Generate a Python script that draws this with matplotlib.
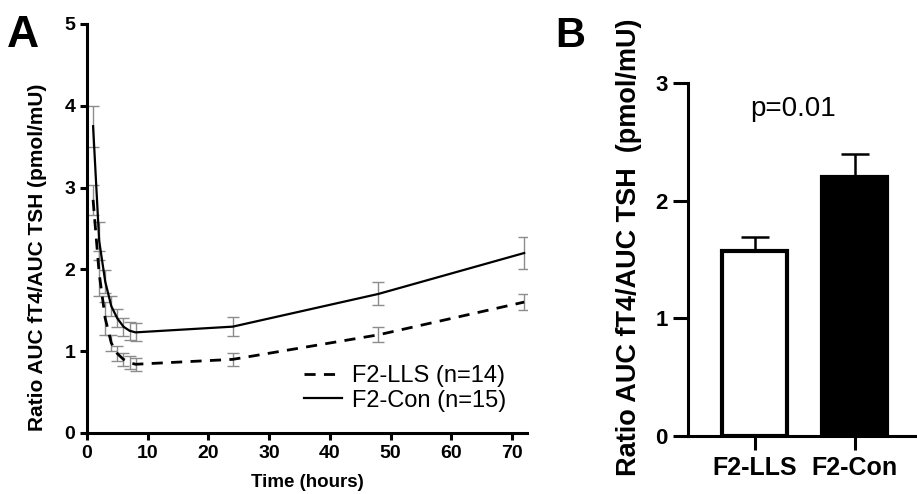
import numpy as np
import matplotlib
matplotlib.use("Agg")
import matplotlib.pyplot as plt

plt.rcParams['font.family'] = ['Liberation Sans', 'DejaVu Sans']

# Panel A data
time_h = [1, 2, 3, 4, 5, 6, 7, 8, 24, 48, 72]
con_mean = [3.75, 2.35, 1.85, 1.55, 1.40, 1.30, 1.25, 1.23, 1.30, 1.70, 2.20]
con_err = [0.25, 0.23, 0.14, 0.12, 0.11, 0.11, 0.11, 0.11, 0.12, 0.14, 0.20]
lls_mean = [2.85, 1.95, 1.40, 1.10, 0.97, 0.90, 0.86, 0.84, 0.90, 1.20, 1.60]
lls_err = [0.18, 0.28, 0.20, 0.10, 0.09, 0.08, 0.08, 0.08, 0.08, 0.09, 0.10]

# Panel B data
groups = ['F2-LLS', 'F2-Con']
bar_mean = [1.57, 2.20]
bar_err = [0.12, 0.20]

fig = plt.figure(figsize=(9.17, 4.94), dpi=100)

# ---- Panel A
ax1 = fig.add_axes([0.0949, 0.1235, 0.48, 0.828])
ax1.errorbar(time_h, con_mean, yerr=con_err, fmt='none', ecolor='#8c8c8c',
             elinewidth=1, capsize=4, capthick=1)
ax1.errorbar(time_h, lls_mean, yerr=lls_err, fmt='none', ecolor='#8c8c8c',
             elinewidth=1, capsize=4, capthick=1)
ax1.plot(time_h, lls_mean, color='k', lw=2, ls=(0, (4, 3)), label='F2-LLS (n=14)')
ax1.plot(time_h, con_mean, color='k', lw=1.6, label='F2-Con (n=15)')

ax1.set_xlim(0, 72.5)
ax1.set_ylim(0, 5)
ax1.set_xticks(np.arange(0, 80, 10))
ax1.set_yticks(np.arange(0, 6, 1))
for s in ['top', 'right']:
    ax1.spines[s].set_visible(False)
for s in ['left', 'bottom']:
    ax1.spines[s].set_linewidth(2.2)
ax1.tick_params(width=2.2, length=5, labelsize=14)
for lab in ax1.get_xticklabels() + ax1.get_yticklabels():
    lab.set_fontweight('bold')
ax1.set_xlabel('Time (hours)', fontsize=13.5, fontweight='bold', labelpad=9)
ax1.set_ylabel('Ratio AUC fT4/AUC TSH (pmol/mU)', fontsize=15, fontweight='bold')
ax1.yaxis.set_label_coords(-0.09, 0.43)
ax1.legend(loc='lower right', bbox_to_anchor=(1.0, 0.0), frameon=False,
           fontsize=17, handlelength=1.6, handletextpad=0.4, labelspacing=0.1)
fig.text(0.008, 0.905, 'A', fontsize=32, fontweight='bold')

# ---- Panel B
ax2 = fig.add_axes([0.750, 0.117, 0.25, 0.715])
xpos = np.arange(len(groups))
ax2.bar(xpos, bar_mean, width=0.65, color=['white', 'black'], edgecolor='black',
        linewidth=3, zorder=2)
ax2.errorbar(xpos, bar_mean, yerr=[[0, 0], bar_err], fmt='none', ecolor='black',
             elinewidth=1.8, capsize=10, capthick=1.8, zorder=1)
ax2.set_xlim(-0.67, 1.62)
ax2.set_ylim(0, 3)
ax2.set_yticks([0, 1, 2, 3])
ax2.set_xticks(xpos)
ax2.set_xticklabels(groups)
for s in ['top', 'right']:
    ax2.spines[s].set_visible(False)
for s in ['left', 'bottom']:
    ax2.spines[s].set_linewidth(2.2)
ax2.tick_params(axis='y', width=2.2, length=11, labelsize=16)
ax2.tick_params(axis='x', width=2.2, length=10, labelsize=18, pad=4)
for lab in ax2.get_xticklabels() + ax2.get_yticklabels():
    lab.set_fontweight('bold')
ax2.set_ylabel('Ratio AUC fT4/AUC TSH  (pmol/mU)', fontsize=19.5, fontweight='bold')
ax2.yaxis.set_label_coords(-0.20, 0.535)
ax2.text(0.38, 2.78, 'p=0.01', fontsize=20, ha='center', va='center')
fig.text(0.605, 0.905, 'B', fontsize=30, fontweight='bold')

fig.savefig('out.png', dpi=100)
